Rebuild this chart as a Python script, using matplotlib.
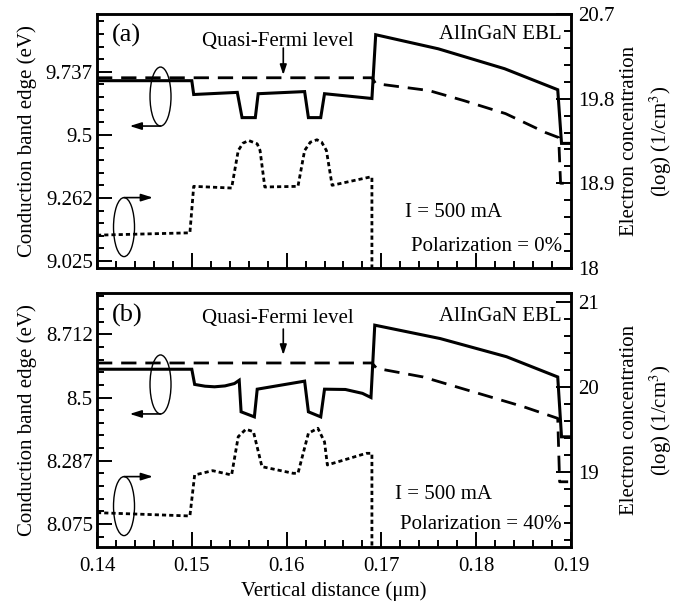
import numpy as np
import matplotlib
matplotlib.use("Agg")
import matplotlib.pyplot as plt
from matplotlib.patches import Ellipse
from matplotlib.ticker import FixedLocator, FixedFormatter

plt.rcParams['font.family'] = ['Liberation Serif', 'DejaVu Serif']
plt.rcParams['mathtext.fontset'] = 'stix'

# ---------------- Data: panel (a), polarization 0% ----------------
a_cb_x = [0.140, 0.1500, 0.1502, 0.1548, 0.1553, 0.1567, 0.1570, 0.1619, 0.1623,
          0.1636, 0.1640, 0.1690, 0.1694, 0.1760, 0.1830, 0.1886, 0.1890, 0.1900]
a_cb_y = [9.704, 9.704, 9.652, 9.660, 9.565, 9.565, 9.655, 9.663, 9.565,
          9.565, 9.655, 9.637, 9.877, 9.824, 9.749, 9.670, 9.468, 9.468]

a_qf_x = [0.140, 0.1690, 0.1694, 0.1750, 0.1787, 0.1831, 0.1873, 0.1887, 0.1889, 0.1900]
a_qf_y = [9.715, 9.715, 9.693, 9.667, 9.629, 9.580, 9.509, 9.490, 9.318, 9.318]

a_n_x = [0.140, 0.1498, 0.1502, 0.1542, 0.1549, 0.1554, 0.1560, 0.1569, 0.1572,
         0.1577, 0.1612, 0.1619, 0.1625, 0.1632, 0.1637, 0.1642, 0.1648, 0.1688,
         0.1690, 0.1690]
a_n_y = [18.349, 18.374, 18.868, 18.850, 19.249, 19.327, 19.355, 19.320, 19.249,
         18.861, 18.868, 19.249, 19.337, 19.363, 19.337, 19.249, 18.879, 18.967,
         18.967, 17.500]

# ---------------- Data: panel (b), polarization 40% ----------------
b_cb_x = [0.140, 0.1500, 0.1503, 0.1514, 0.1524, 0.1535, 0.1545, 0.1550, 0.1552,
          0.1566, 0.1569, 0.1619, 0.1623, 0.1636, 0.1640, 0.1662, 0.1680, 0.1689,
          0.1693, 0.1762, 0.1832, 0.1886, 0.1890, 0.1900]
b_cb_y = [8.595, 8.595, 8.544, 8.538, 8.536, 8.539, 8.547, 8.558, 8.452,
          8.435, 8.528, 8.555, 8.452, 8.435, 8.528, 8.527, 8.514, 8.500,
          8.743, 8.698, 8.637, 8.569, 8.368, 8.368]

b_qf_x = [0.140, 0.1690, 0.1695, 0.1744, 0.1797, 0.1850, 0.1886, 0.1888, 0.1897]
b_qf_y = [8.616, 8.616, 8.598, 8.569, 8.519, 8.469, 8.430, 8.217, 8.217]

b_n_x = [0.140, 0.1498, 0.1503, 0.1522, 0.1542, 0.1549, 0.1557, 0.1565, 0.1574,
         0.1607, 0.1612, 0.1623, 0.1633, 0.1640, 0.1643, 0.1684, 0.1690, 0.1690]
b_n_y = [18.518, 18.479, 18.961, 19.012, 18.961, 19.412, 19.499, 19.471, 19.059,
         18.981, 18.981, 19.452, 19.511, 19.350, 19.079, 19.216, 19.216, 17.500]

# ---------------- Axis ticks ----------------
a_left_ticks = [9.025, 9.2625, 9.5, 9.7375]
a_left_labels = ['9.025', '9.262', '9.5', '9.737']
a_right_ticks = [18.0, 18.9, 19.8, 20.7]
a_right_labels = ['18', '18.9', '19.8', '20.7']
b_left_ticks = [8.075, 8.2875, 8.5, 8.7125]
b_left_labels = ['8.075', '8.287', '8.5', '8.712']
b_right_ticks = [19.0, 20.0, 21.0]
b_right_labels = ['19', '20', '21']
x_ticks = [0.14, 0.15, 0.16, 0.17, 0.18, 0.19]
x_labels = ['0.14', '0.15', '0.16', '0.17', '0.18', '0.19']

FS = 15
fig = plt.figure(figsize=(6.82, 6.05), dpi=100)
W, H = 682, 605
L, R = 97, 571
axA = fig.add_axes([L / W, (H - 268) / H, (R - L) / W, 254 / H])
axB = fig.add_axes([L / W, (H - 547) / H, (R - L) / W, 254 / H])

dash = (0, (5.5, 3.2))
dot = (0, (1.5, 1.1))


def style(ax, ax2, lt, ll, lstep, lim, rt, rl, rstep, rlim, show_x):
    ax.set_xlim(0.14, 0.19)
    ax.set_ylim(*lim)
    ax2.set_ylim(*rlim)
    ax.xaxis.set_major_locator(FixedLocator(x_ticks))
    ax.xaxis.set_minor_locator(FixedLocator(np.arange(0.14, 0.1901, 0.002)))
    if show_x:
        ax.xaxis.set_major_formatter(FixedFormatter(x_labels))
    else:
        ax.set_xticklabels([])
    ax.yaxis.set_major_locator(FixedLocator(lt))
    ax.yaxis.set_major_formatter(FixedFormatter(ll))
    ax.yaxis.set_minor_locator(FixedLocator(np.arange(lt[0] - 2 * lstep, lim[1], lstep)))
    ax2.yaxis.set_major_locator(FixedLocator(rt))
    ax2.yaxis.set_major_formatter(FixedFormatter(rl))
    ax2.yaxis.set_minor_locator(FixedLocator(np.arange(rt[0] - 6 * rstep, rlim[1] + 1e-6, rstep)))
    for a in (ax, ax2):
        a.tick_params(which='major', direction='in', length=11, width=1.4, labelsize=FS)
        a.tick_params(which='minor', direction='in', length=5, width=1.4)
        for s in a.spines.values():
            s.set_linewidth(1.8)
    ax.tick_params(axis='x', which='both', top=False, pad=7)
    ax.tick_params(axis='y', which='both', right=False, pad=3)
    ax2.tick_params(axis='y', which='both', left=False, pad=5)
    ax.set_ylabel('Conduction band edge (eV)', fontsize=FS)
    ax.yaxis.set_label_coords(-0.127, 0.5)
    ax2.set_ylabel('Electron concentration\n(log) (1/cm$^3$)', fontsize=FS,
                   linespacing=1.45)
    ax2.yaxis.set_label_coords(1.104, 0.5)


def annotate(ax, tag, pol, e1y, e2y, tag_y, qf_y, arr_top, arr_bot, ebl_y, i_x, i_y, pol_y):
    tr = ax.transAxes
    ax.text(0.032, tag_y, tag, transform=tr, fontsize=19, ha='left', va='center')
    ax.text(0.381, qf_y, 'Quasi-Fermi level', transform=tr, fontsize=FS,
            ha='center', va='center')
    ax.annotate('', xy=(0.393, arr_bot), xytext=(0.393, arr_top), xycoords=tr,
                textcoords=tr,
                arrowprops=dict(arrowstyle='-|>,head_length=0.6,head_width=0.2',
                                lw=1.2, color='k', shrinkA=0, shrinkB=0))
    ax.text(0.981, ebl_y, 'AlInGaN EBL', transform=tr, fontsize=FS, ha='right', va='center')
    ax.text(i_x, i_y, 'I = 500 mA', transform=tr, fontsize=FS, ha='left', va='center')
    ax.text(0.981, pol_y, 'Polarization = %s' % pol, transform=tr, fontsize=FS,
            ha='right', va='center')
    # ellipse with left arrow (conduction band -> left axis)
    ew, eh = 21 / 474, 59 / 254
    ax.add_patch(Ellipse((0.134, e1y), ew, eh, transform=tr, fill=False, lw=1.0,
                         color='k', clip_on=False))
    ax.annotate('', xy=(0.069, e1y - eh / 2), xytext=(0.134, e1y - eh / 2),
                xycoords=tr, textcoords=tr,
                arrowprops=dict(arrowstyle='-|>,head_length=0.7,head_width=0.22',
                                lw=1.2, color='k', shrinkA=0, shrinkB=0))
    # ellipse with right arrow (electron concentration -> right axis)
    ax.add_patch(Ellipse((0.057, e2y), ew, eh, transform=tr, fill=False, lw=1.0,
                         color='k', clip_on=False))
    ax.annotate('', xy=(0.118, e2y + eh / 2), xytext=(0.057, e2y + eh / 2),
                xycoords=tr, textcoords=tr,
                arrowprops=dict(arrowstyle='-|>,head_length=0.7,head_width=0.22',
                                lw=1.2, color='k', shrinkA=0, shrinkB=0))


# Panel (a)
axA2 = axA.twinx()
axA.plot(a_cb_x, a_cb_y, color='k', lw=2.2, solid_joinstyle='miter')
axA.plot(a_qf_x, a_qf_y, color='k', lw=2.0, linestyle=dash)
axA2.plot(a_n_x, a_n_y, color='k', lw=2.0, linestyle=dot)
style(axA, axA2, a_left_ticks, a_left_labels, 0.0475, (8.999, 9.955),
      a_right_ticks, a_right_labels, 0.18, (18.0, 20.7), False)
annotate(axA, '(a)', '0%', 0.675, 0.161, 0.917, 0.891, 0.866, 0.76, 0.921, 0.65, 0.217, 0.083)

# Panel (b)
axB2 = axB.twinx()
axB.plot(b_cb_x, b_cb_y, color='k', lw=2.2, solid_joinstyle='miter')
axB.plot(b_qf_x, b_qf_y, color='k', lw=2.0, linestyle=dash)
axB2.plot(b_n_x, b_n_y, color='k', lw=2.0, linestyle=dot)
style(axB, axB2, b_left_ticks, b_left_labels, 0.0425, (7.998, 8.851),
      b_right_ticks, b_right_labels, 0.2, (18.114, 21.102), True)
annotate(axB, '(b)', '40%', 0.640, 0.161, 0.913, 0.90, 0.858, 0.756, 0.906, 0.629, 0.205, 0.087)
axB.set_xlabel('Vertical distance (μm)', fontsize=FS, labelpad=4)

fig.savefig('out.png', dpi=100)
